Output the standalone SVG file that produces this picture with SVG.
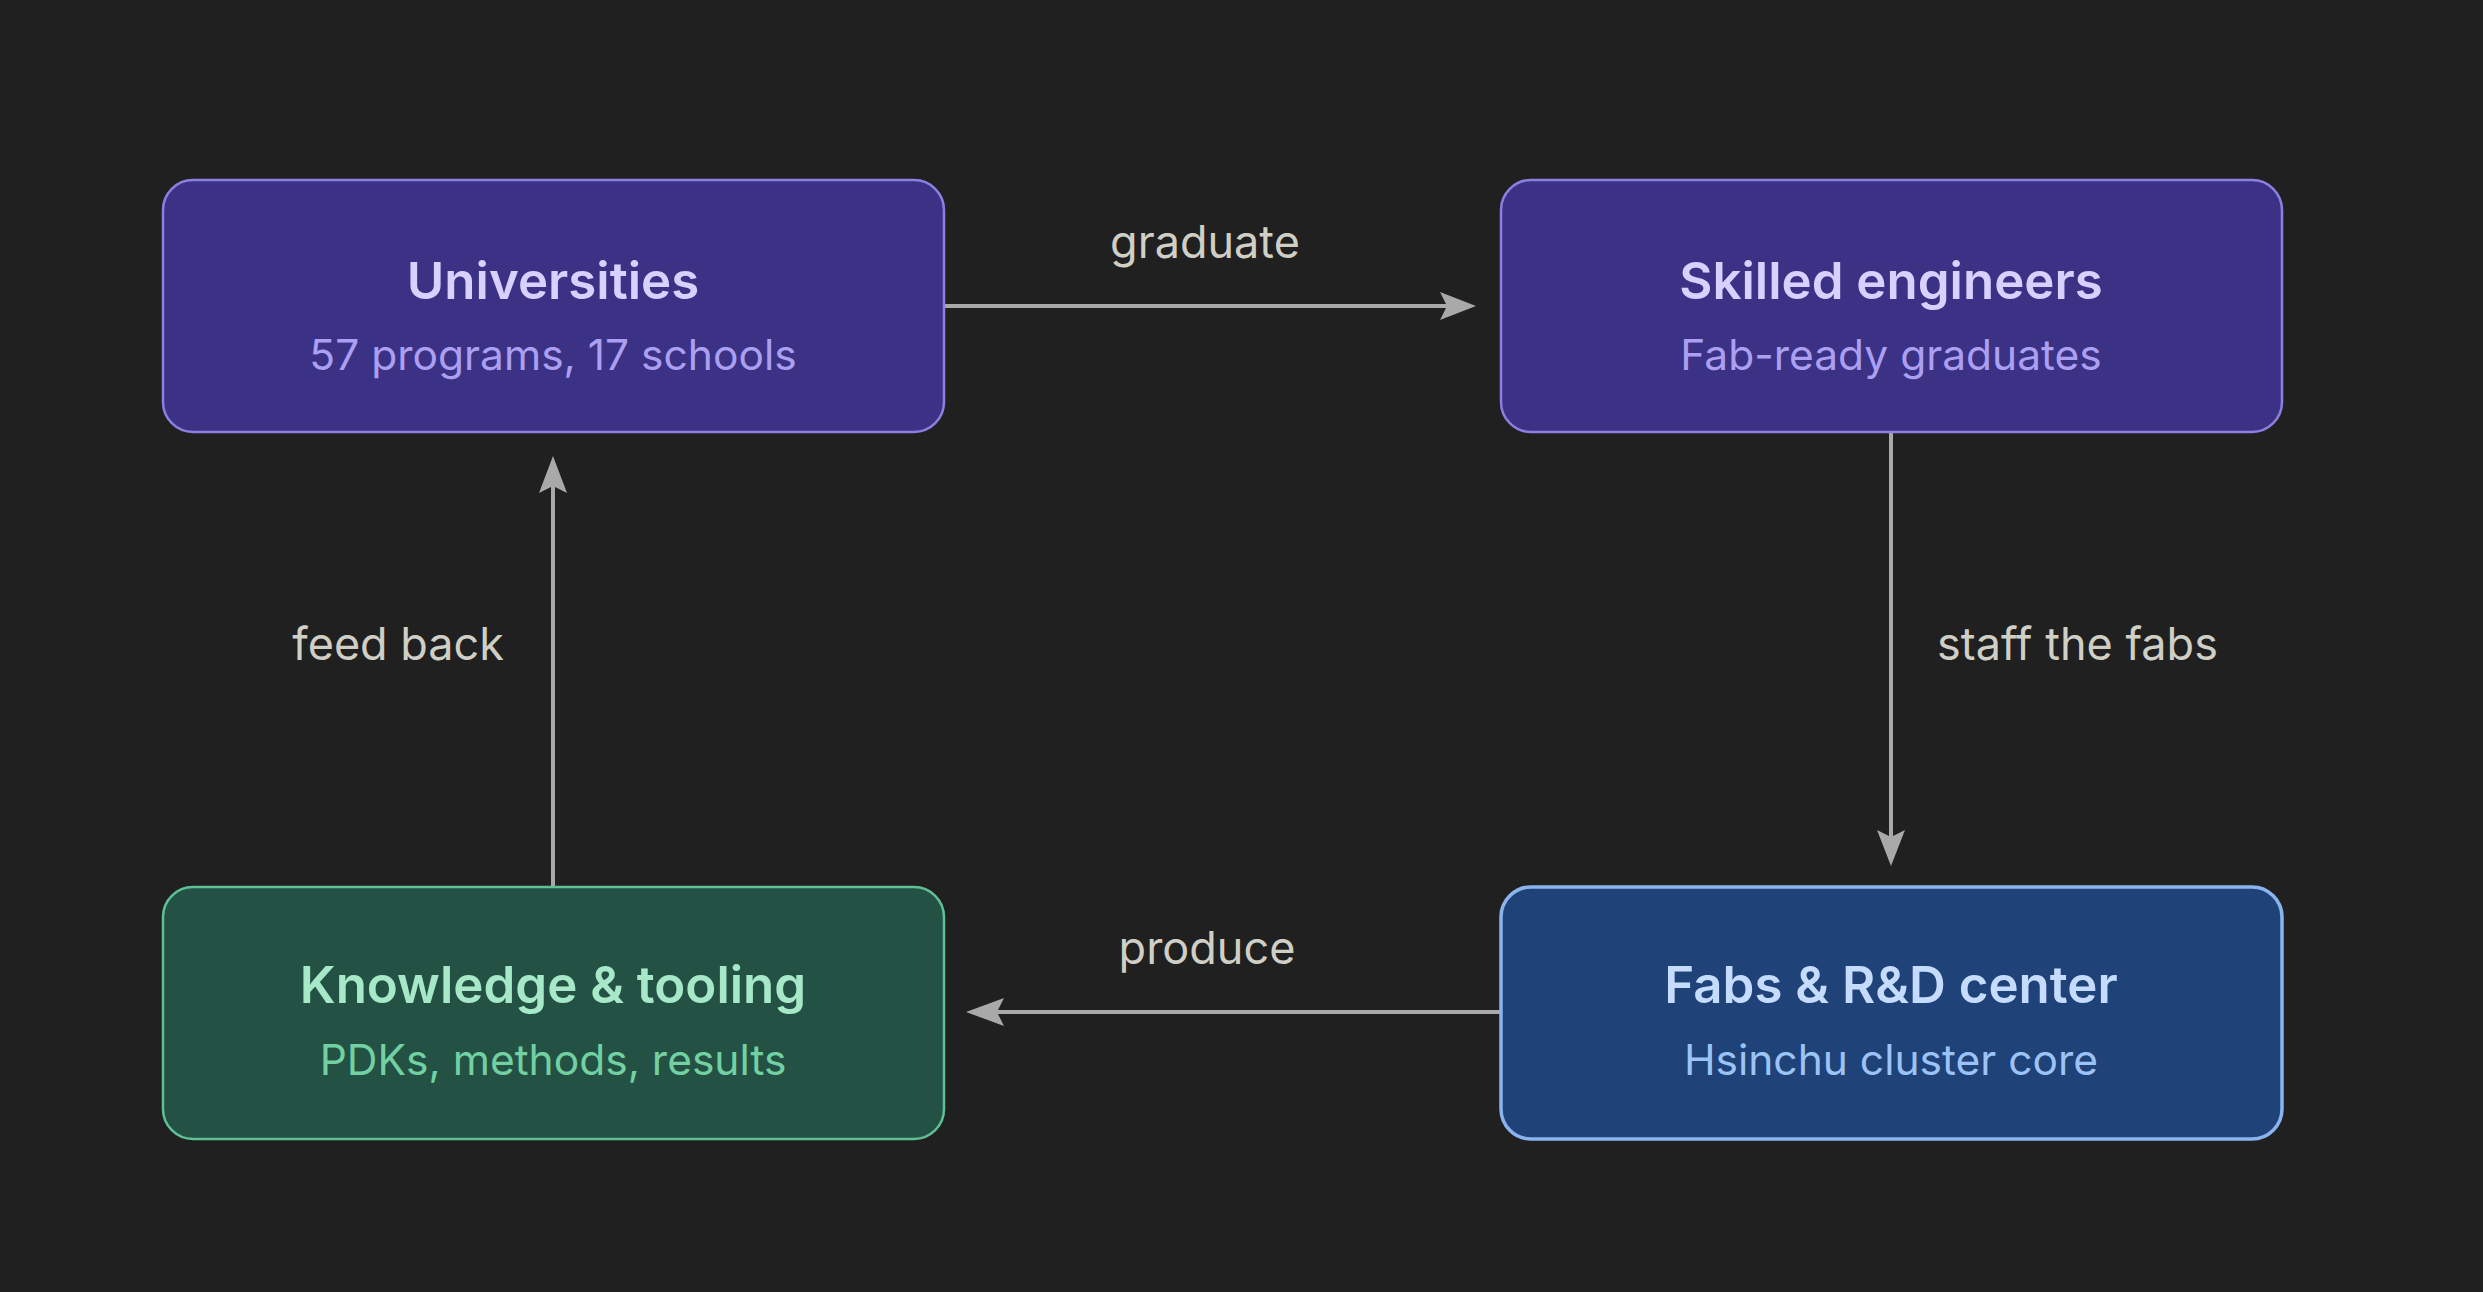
<svg xmlns="http://www.w3.org/2000/svg" width="2483" height="1292" viewBox="0 0 2483 1292">
<style>
.t{font-family:Inter,"Noto Sans","Liberation Sans",sans-serif;font-size:51px;font-weight:600;text-anchor:middle}
.s{font-family:Inter,"Noto Sans","Liberation Sans",sans-serif;font-size:42.5px;text-anchor:middle}
.l{font-family:Inter,"Noto Sans","Liberation Sans",sans-serif;font-size:45px;fill:#cfcfc6}
.c{stroke:#a9a9a9;stroke-width:4;fill:none}
</style>
<rect width="2483" height="1292" fill="#202020"/>
<g id="connectors">
<path class="c" d="M944,306H1450"/><path d="M1440,292L1476,306L1440,320L1447,306z" fill="#a9a9a9"/>
<path class="c" d="M1891,432V840"/><path d="M1877,830L1891,866L1905,830L1891,837z" fill="#a9a9a9"/>
<path class="c" d="M1500,1012H995"/><path d="M1004,998L966,1012L1004,1026L997,1012z" fill="#a9a9a9"/>
<path class="c" d="M553,886V485"/><path d="M539,493L553,456L567,493L553,486z" fill="#a9a9a9"/>
<text class="l" x="1205" y="258" text-anchor="middle">graduate</text>
<text class="l" x="1937" y="660">staff the fabs</text>
<text class="l" x="1207" y="964" text-anchor="middle">produce</text>
<text class="l" x="504" y="660" text-anchor="end">feed back</text>
</g>
<g id="universities"><rect x="163" y="180" width="781" height="252" rx="30" fill="#3b3285" stroke="#8b7fe0" stroke-width="2.5"/><text class="t" x="553" y="299" fill="#d8d0ff">Universities</text><text class="s" x="553" y="370" fill="#ab9ff2">57 programs, 17 schools</text></g>
<g id="engineers"><rect x="1501" y="180" width="781" height="252" rx="30" fill="#3b3285" stroke="#8b7fe0" stroke-width="2.5"/><text class="t" x="1891" y="299" fill="#d8d0ff">Skilled engineers</text><text class="s" x="1891" y="370" fill="#ab9ff2">Fab-ready graduates</text></g>
<g id="fabs"><rect x="1501" y="887" width="781" height="252" rx="30" fill="#1f4278" stroke="#8ab4ee" stroke-width="3.5"/><text class="t" x="1891" y="1003" fill="#c5dcff">Fabs &amp; R&amp;D center</text><text class="s" x="1891" y="1075" fill="#9cc3f5">Hsinchu cluster core</text></g>
<g id="knowledge"><rect x="163" y="887" width="781" height="252" rx="30" fill="#235244" stroke="#5fbf95" stroke-width="2.5"/><text class="t" x="553" y="1003" fill="#a6e8c8">Knowledge &amp; tooling</text><text class="s" x="553" y="1075" fill="#72d0a2">PDKs, methods, results</text></g>
</svg>
